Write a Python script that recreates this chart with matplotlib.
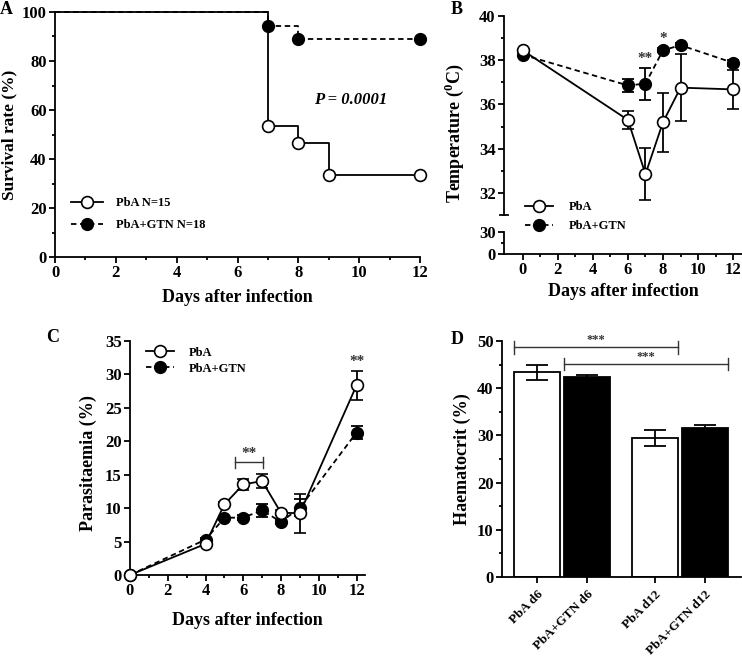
import matplotlib
matplotlib.use("Agg")
import matplotlib.pyplot as plt
from matplotlib.ticker import MultipleLocator, FixedLocator

# ---- data ----
# A: survival (Kaplan-Meier)
surv_days_pba = [0, 7, 8, 9, 12]
surv_pba = [100, 53.3, 46.7, 33.3, 33.3]
surv_days_gtn = [0, 7, 8, 12]
surv_gtn = [100, 94.4, 88.9, 88.9]
p_text = "P = 0.0001"

# B: temperature
temp_days = [0, 6, 7, 8, 9, 12]
temp_pba = [38.45, 35.3, 32.85, 35.2, 36.76, 36.68]
temp_pba_err = [0.0, 0.4, 1.18, 1.33, 1.53, 0.9]
temp_gtn = [38.25, 36.86, 36.94, 38.45, 38.68, 37.88]
temp_gtn_err = [0.0, 0.3, 0.73, 0.1, 0.1, 0.15]

# C: parasitaemia
para_days = [0, 4, 5, 6, 7, 8, 9, 12]
para_pba = [0.0, 4.65, 10.55, 13.55, 14.05, 9.3, 9.25, 28.35]
para_pba_err = [0.0, 0.2, 0.3, 0.85, 1.0, 0.4, 2.9, 2.15]
para_gtn = [0.0, 5.3, 8.55, 8.6, 9.65, 7.95, 10.05, 21.3]
para_gtn_err = [0.0, 0.2, 0.3, 0.3, 0.9, 0.3, 1.25, 1.0]

# D: haematocrit
hct_labels = ["PbA d6", "PbA+GTN d6", "PbA d12", "PbA+GTN d12"]
hct_vals = [43.4, 42.3, 29.5, 31.6]
hct_err = [1.6, 0.5, 1.7, 0.5]
hct_colors = ["white", "black", "white", "black"]
hct_pos = [0, 1, 2.35, 3.35]

plt.rcParams["font.family"] = "Liberation Serif"
plt.rcParams["font.weight"] = "bold"
plt.rcParams["axes.labelweight"] = "bold"
plt.rcParams["mathtext.fontset"] = "custom"
plt.rcParams["mathtext.rm"] = "Liberation Serif:bold"
plt.rcParams["mathtext.bf"] = "Liberation Serif:bold"

LW = 1.3
MS = 8.5


def style(ax, labelsize=12):
    for s in ("top", "right"):
        ax.spines[s].set_visible(False)
    for s in ("left", "bottom"):
        ax.spines[s].set_linewidth(LW)
    ax.tick_params(which="major", direction="out", length=4, width=LW,
                   labelsize=labelsize, pad=2)
    ax.tick_params(which="minor", direction="out", length=2.5, width=LW)
    ax.patch.set_alpha(0)


def px(l, t, r, b, W=742, H=658):
    return [l / W, 1 - b / H, (r - l) / W, (b - t) / H]


fig = plt.figure(figsize=(7.42, 6.58), dpi=100)

# ---------------- A ----------------
axA = fig.add_axes(px(55, 12, 420, 257))
axA.plot(surv_days_pba, surv_pba, "k-", drawstyle="steps-post", lw=LW,
         marker="o", mfc="white", mec="k", mew=1.2, ms=MS,
         markevery=[1, 2, 3, 4], clip_on=False, zorder=3, label="PbA N=15")
axA.plot(surv_days_gtn, surv_gtn, "k--", drawstyle="steps-post", lw=LW,
         dashes=(3, 2), marker="o", mfc="k", mec="k", ms=MS,
         markevery=[1, 2, 3], clip_on=False, zorder=2, label="PbA+GTN N=18")
axA.set_xlim(0, 12)
axA.set_ylim(0, 100)
axA.xaxis.set_major_locator(MultipleLocator(2))
axA.xaxis.set_minor_locator(MultipleLocator(1))
axA.yaxis.set_major_locator(MultipleLocator(20))
axA.yaxis.set_minor_locator(MultipleLocator(10))
style(axA, 12)
axA.set_xlabel("Days after infection", fontsize=13)
axA.set_ylabel("Survival rate (%)", fontsize=12.5)
axA.xaxis.set_label_coords(0.5, -0.13)
axA.yaxis.set_label_coords(-0.103, 0.5)
axA.text(8.5, 64, p_text, fontsize=12, fontweight="bold", style="italic",
         va="center", ha="left")
axA.legend(loc="upper left", bbox_to_anchor=(0.045, 0.245), frameon=False,
           fontsize=9, handlelength=2.5, handletextpad=1.1, labelspacing=0.8,
           borderpad=0, borderaxespad=0)

# ---------------- B (broken axis) ----------------
xlim_b = (-1.06, 12.5)
axB = fig.add_axes(px(504, 16, 742, 215))
axB2 = fig.add_axes(px(504, 232, 742, 254))
eb1 = axB.errorbar(temp_days, temp_pba, yerr=temp_pba_err, fmt="o-", color="k",
                   mfc="white", mec="k", mew=1.2, ms=MS, lw=LW, elinewidth=LW,
                   capsize=4, capthick=LW, zorder=3, clip_on=False, label="PbA")
eb2 = axB.errorbar(temp_days, temp_gtn, yerr=temp_gtn_err, fmt="o--", color="k",
                   mfc="k", mec="k", ms=MS, lw=LW, elinewidth=LW, dashes=(3, 2),
                   capsize=4, capthick=LW, zorder=2, clip_on=False,
                   label="PbA+GTN")
axB.set_xlim(*xlim_b)
axB.set_ylim(31, 40)
axB.yaxis.set_major_locator(FixedLocator([32, 34, 36, 38, 40]))
axB.yaxis.set_minor_locator(FixedLocator([33, 35, 37, 39]))
style(axB, 12)
axB.spines["bottom"].set_visible(False)
axB.tick_params(axis="x", which="both", bottom=False, labelbottom=False)
# break cap at the bottom of the upper y segment
axB.plot([-0.018, 0.018], [0, 0], color="k", lw=LW, transform=axB.transAxes,
         clip_on=False)
axB.text(7, 37.78, "**", ha="center", va="bottom", fontsize=11, color="#333")
axB.text(8, 38.68, "*", ha="center", va="bottom", fontsize=11, color="#333")
axB.set_ylabel(r"Temperature ($^{0}$C)", fontsize=13)
axB.yaxis.set_label_coords(-0.16, 0.41)
axB.legend(handles=[eb1.lines[0], eb2.lines[0]], labels=["PbA", "PbA+GTN"],
           loc="upper left", bbox_to_anchor=(0.09, 0.07),
           frameon=False, fontsize=9, handlelength=2.2, handletextpad=1.3,
           labelspacing=0.55, borderpad=0, borderaxespad=0)

axB2.set_xlim(*xlim_b)
axB2.set_ylim(0, 30)
axB2.yaxis.set_major_locator(FixedLocator([0, 30]))
axB2.yaxis.set_minor_locator(FixedLocator([15]))
axB2.xaxis.set_major_locator(FixedLocator([0, 2, 4, 6, 8, 10, 12]))
axB2.xaxis.set_minor_locator(FixedLocator([1, 3, 5, 7, 9, 11]))
style(axB2, 12)
axB2.set_xlabel("Days after infection", fontsize=13)
axB2.xaxis.set_label_coords(0.5, -1.3)

# ---------------- C ----------------
axC = fig.add_axes(px(130, 341, 365, 575))
c1 = axC.errorbar(para_days, para_pba, yerr=para_pba_err, fmt="o-", color="k",
                  mfc="white", mec="k", mew=1.2, ms=MS, lw=LW, elinewidth=LW,
                  capsize=4, capthick=LW, zorder=3, clip_on=False, label="PbA")
c2 = axC.errorbar(para_days, para_gtn, yerr=para_gtn_err, fmt="o--", color="k",
                  mfc="k", mec="k", ms=MS, lw=LW, elinewidth=LW, dashes=(3, 2),
                  capsize=4, capthick=LW, zorder=2, clip_on=False,
                  label="PbA+GTN")
axC.set_xlim(0, 12.45)
axC.set_ylim(0, 35)
axC.xaxis.set_major_locator(FixedLocator([0, 2, 4, 6, 8, 10, 12]))
axC.xaxis.set_minor_locator(FixedLocator([1, 3, 5, 7, 9, 11]))
axC.yaxis.set_major_locator(MultipleLocator(5))
style(axC, 12)
axC.set_xlabel("Days after infection", fontsize=13)
axC.set_ylabel("Parasitaemia (%)", fontsize=13)
axC.xaxis.set_label_coords(0.5, -0.16)
axC.yaxis.set_label_coords(-0.14, 0.48)
# significance bracket day 6-7
br_c = (5.58, 7.06, 16.9)
axC.plot([br_c[0], br_c[1]], [br_c[2], br_c[2]], color="#333", lw=1.0)
for xb in br_c[:2]:
    axC.plot([xb, xb], [br_c[2] - 0.95, br_c[2] + 0.8], color="#333", lw=1.0)
axC.text((br_c[0] + br_c[1]) / 2, br_c[2] + 0.3, "**", ha="center",
         va="bottom", fontsize=11, color="#333")
axC.text(12, 31.0, "**", ha="center", va="bottom", fontsize=11, color="#333")
axC.legend(handles=[c1.lines[0], c2.lines[0]], labels=["PbA", "PbA+GTN"],
           loc="upper left", bbox_to_anchor=(0.07, 0.975),
           frameon=False, fontsize=9, handlelength=2.2, handletextpad=1.2,
           labelspacing=0.3, borderpad=0, borderaxespad=0)

# ---------------- D ----------------
axD = fig.add_axes(px(502, 341, 741, 577))
bw = 0.92
axD.bar(hct_pos, hct_vals, width=bw, color=hct_colors, edgecolor="k",
        linewidth=LW, zorder=2)
axD.errorbar(hct_pos, hct_vals, yerr=hct_err, fmt="none", ecolor="k",
             elinewidth=LW, capsize=8, capthick=LW, zorder=3)
axD.set_xlim(-0.7, 4.08)
axD.set_ylim(0, 50)
axD.yaxis.set_major_locator(MultipleLocator(10))
axD.yaxis.set_minor_locator(MultipleLocator(5))
axD.set_xticks(hct_pos)
style(axD, 12)
axD.set_xticklabels(hct_labels, rotation=45, ha="right", va="top",
                    rotation_mode="anchor", fontsize=9.5)
axD.tick_params(axis="x", pad=4)
axD.set_ylabel("Haematocrit (%)", fontsize=13)
axD.yaxis.set_label_coords(-0.13, 0.5)
# significance brackets
brackets_d = [(0, 2, 48.7), (1, 3, 45.2)]
for i, j, yb in brackets_d:
    x0 = hct_pos[i] - bw / 2
    x1 = hct_pos[j] + bw / 2
    axD.plot([x0, x1], [yb, yb], color="#333", lw=1.0, clip_on=False)
    for xb in (x0, x1):
        axD.plot([xb, xb], [yb - 1.4, yb + 1.3], color="#333", lw=1.0,
                 clip_on=False)
    axD.text((x0 + x1) / 2, yb + 0.2, "***", ha="center", va="bottom",
             fontsize=9, color="#333")

# panel letters
for lab, (x, y) in {"A": (6, 9), "B": (457, 9), "C": (53, 337),
                    "D": (457, 339)}.items():
    fig.text(x / 742, 1 - y / 658, lab, fontsize=13, fontweight="bold",
             ha="center", va="center")

fig.savefig("out.png", dpi=100)
